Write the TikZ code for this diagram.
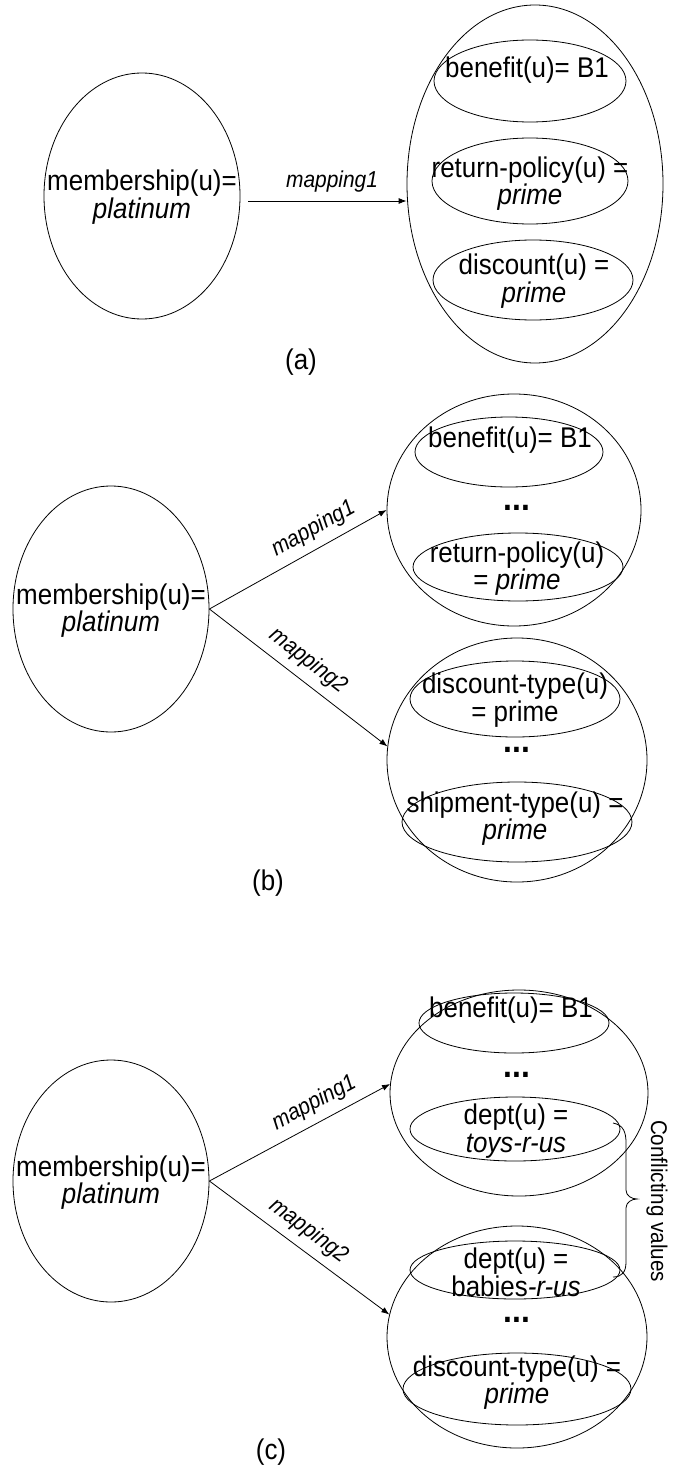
\documentclass[tikz,border=0pt]{standalone}
\usepackage{fontspec}
\setmainfont[FakeStretch=0.91]{Liberation Sans}
\usetikzlibrary{shapes.geometric,arrows.meta}
\begin{document}
\begin{tikzpicture}[x=1pt,y=-1pt,
  ell/.style={draw, ellipse, inner sep=0pt, line width=0.8pt},
  txt/.style={align=center, inner sep=0pt, font=\fontsize{28.5}{27.5}\selectfont},
  lbl/.style={font=\fontsize{23}{24}\selectfont\itshape, sloped, above, inner sep=8pt},
  dotsn/.style={font=\fontsize{35}{36}\selectfont\bfseries, anchor=base, inner sep=0pt},
  arr/.style={-{Latex[length=8pt,width=6pt]}, line width=0.8pt},
  captxt/.style={font=\fontsize{28.5}{27.5}\selectfont, inner sep=0pt},
  sidetxt/.style={font=\fontsize{22.7}{24}\selectfont, inner sep=0pt, rotate=-90}
]
\useasboundingbox (0,0) rectangle (678,1471);

% ---------- (a)
\node[ell, minimum width=196, minimum height=246] (la) at (142,196) {};
\node[txt] (la-t) at (142,197) {membership(u)=\\\textit{platinum}};
\node[ell, minimum width=256, minimum height=358] (ra) at (535,184) {};
\node[ell, minimum width=192, minimum height=82] (a1) at (530,81) {};
\node[txt] (a1-t) at (527,70) {benefit(u)= B1};
\node[ell, minimum width=196, minimum height=86] (a2) at (530,181) {};
\node[txt] (a2-t) at (530,183.5) {return-policy(u) =\\\textit{prime}};
\node[ell, minimum width=200, minimum height=80] (a3) at (533,280) {};
\node[txt] (a3-t) at (534,281) {discount(u) =\\\textit{prime}};
\coordinate (a-s) at (248,201);
\draw[arr] (a-s) -- node[lbl, pos=0.53] {mapping1} (a-s -| ra.west);
\node[captxt] (a-cap) at (301,362) {(a)};

% ---------- (b)
\node[ell, minimum width=196, minimum height=246] (lb) at (111,609) {};
\node[txt] (lb-t) at (111,610.5) {membership(u)=\\\textit{platinum}};
\node[ell, minimum width=254, minimum height=232] (ub) at (514,510) {};
\node[ell, minimum width=188, minimum height=70] (b1) at (509,452) {};
\node[txt] (b1-t) at (510,440) {benefit(u)= B1};
\node[dotsn] (b-d1) at (517,510.5) {...};
\node[ell, minimum width=210, minimum height=68] (b2) at (518,567) {};
\node[txt] (b2-t) at (517,568.5) {return-policy(u)\\= \textit{prime}};
\node[ell, minimum width=260, minimum height=244] (bb) at (517,760) {};
\node[ell, minimum width=210, minimum height=76] (b3) at (515,699) {};
\node[txt] (b3-t) at (515,700) {discount-type(u)\\= prime};
\node[dotsn] (b-d2) at (517,752.5) {...};
\node[ell, minimum width=230, minimum height=80] (b4) at (517,822) {};
\node[txt] (b4-t) at (515,818.5) {shipment-type(u) =\\\textit{prime}};
\draw[arr] (lb.east) -- node[lbl, pos=0.64] {mapping1} (ub.west);
\draw[arr] (lb.east) -- node[lbl, pos=0.49] {mapping2} (bb.174);
\node[captxt] (b-cap) at (268,883) {(b)};

% ---------- (c)
\node[ell, minimum width=196, minimum height=242] (lc) at (111,1181) {};
\node[txt] (lc-t) at (111,1182.5) {membership(u)=\\\textit{platinum}};
\node[ell, minimum width=258, minimum height=206] (uc) at (519,1093) {};
\node[ell, minimum width=190, minimum height=60] (c1) at (514,1023) {};
\node[txt] (c1-t) at (511,1010) {benefit(u)= B1};
\node[dotsn] (c-d1) at (517,1077.5) {...};
\node[ell, minimum width=210, minimum height=64] (c2) at (515,1129) {};
\node[txt] (c2-t) at (516,1131) {dept(u) =\\\textit{toys-r-us}};
\node[ell, minimum width=260, minimum height=222] (bc) at (517,1337) {};
\node[ell, minimum width=210, minimum height=58] (c3) at (515,1270) {};
\node[txt] (c3-t) at (516,1272.5) {dept(u) =\\babies\textit{-r-us}};
\node[dotsn] (c-d2) at (517,1322.5) {...};
\node[ell, minimum width=228, minimum height=72] (c4) at (517,1389) {};
\node[txt] (c4-t) at (517,1382.5) {discount-type(u) =\\\textit{prime}};
\draw[arr] (lc.east) -- node[lbl, pos=0.63] {mapping1} (uc.176);
\draw[arr] (lc.east) -- node[lbl, pos=0.49] {mapping2} (bc.170);
\draw[line width=0.8pt] (613,1123) .. controls (624,1125) and (626,1133) .. (626,1143)
  -- (626,1190) .. controls (626,1196) and (632,1199) .. (637,1199)
  .. controls (632,1199) and (626,1202) .. (626,1208)
  -- (626,1262) .. controls (626,1272) and (622,1277) .. (613,1277);
\node[sidetxt] (conf) at (657,1201) {Conflicting values};
\node[captxt] (c-cap) at (271,1452) {(c)};
\end{tikzpicture}
\end{document}
